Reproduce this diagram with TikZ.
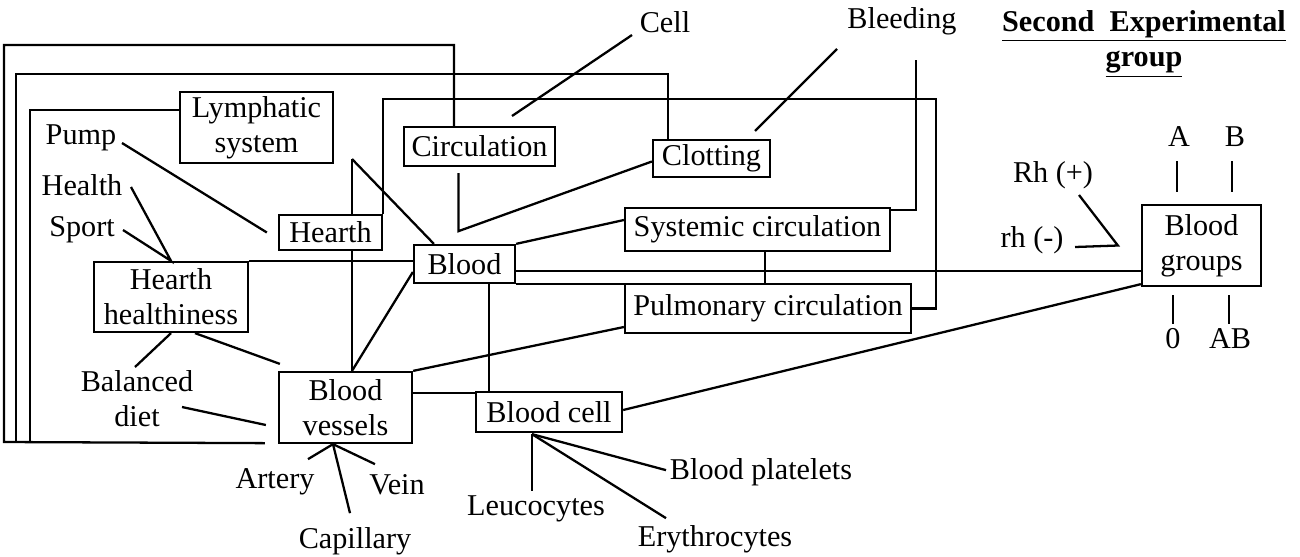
\documentclass[tikz,border=0pt]{standalone}
\usepackage{fontspec}
\setmainfont{Liberation Serif}
\usetikzlibrary{positioning, calc}

\begin{document}
\begin{tikzpicture}[
  x=0.02cm, y=-0.02cm, line width=1.3pt,
  box/.style={draw, line width=1.3pt, align=center, inner sep=0pt, font=\fontsize{17.2}{20}\selectfont},
  lbl/.style={align=center, inner sep=0pt, font=\fontsize{17.2}{20}\selectfont}
]
  \useasboundingbox (0,0) rectangle (1300,556);

  \node[box, minimum width=3.06cm, minimum height=1.42cm] (lymph) at (256.5,127.5) {Lymphatic\\system};
  \node[box, minimum width=3.02cm, minimum height=0.78cm] (circ) at (479.5,146.5) {Circulation};
  \node[box, minimum width=2.34cm, minimum height=0.74cm] (clot) at (711.5,158.5) {Clotting};
  \node[box, minimum width=2.06cm, minimum height=0.70cm] (hearth) at (330.5,232.5) {Hearth};
  \node[box, minimum width=3.08cm, minimum height=1.40cm] (healthy) at (171,297) {Hearth\\healthiness};
  \node[box, minimum width=2.02cm, minimum height=0.76cm] (blood) at (464.5,264) {Blood};
  \node[box, minimum width=5.30cm, minimum height=0.86cm] (sys) at (757.5,229.5) {Systemic circulation};
  \node[box, minimum width=5.72cm, minimum height=0.98cm] (pulm) at (768,308.5) {Pulmonary circulation};
  \node[box, minimum width=2.66cm, minimum height=1.42cm] (vessels) at (345.5,407.5) {Blood\\vessels};
  \node[box, minimum width=2.92cm, minimum height=0.80cm] (bcell) at (549,412) {Blood cell};
  \node[box, minimum width=2.38cm, minimum height=1.62cm] (groups) at (1201.5,245.5) {Blood\\groups};

  \node[lbl] (cell) at (665,22) {Cell};
  \node[lbl] (bleed) at (902,21) {Bleeding};
  \node[lbl] (pump) at (81,138) {Pump};
  \node[lbl] (health) at (82,185) {Health};
  \node[lbl] (sport) at (82,230) {Sport};
  \node[lbl] (diet) at (137,399) {Balanced\\diet};
  \node[lbl] (artery) at (275,482) {Artery};
  \node[lbl] (vein) at (397,485) {Vein};
  \node[lbl] (capil) at (355,541) {Capillary};
  \node[lbl] (leuco) at (536,509) {Leucocytes};
  \node[lbl] (eryth) at (715,539) {Erythrocytes};
  \node[lbl] (plate) at (761,472) {Blood platelets};
  \node[lbl] (rhp) at (1053,175) {Rh (+)};
  \node[lbl] (rhm) at (1032,240) {rh (-)};
  \node[lbl] (ga) at (1179,137) {A};
  \node[lbl] (gb) at (1235,137) {B};
  \node[lbl] (g0) at (1173,339) {0};
  \node[lbl] (gab) at (1230,339) {AB};
  \node[lbl, font=\bfseries\fontsize{17.2}{20}\selectfont] (title) at (1144,44)
    {\underline{Second\ \ Experimental}\\\underline{group}};

  \coordinate (cellA) at (632,35);
  \coordinate (cellB) at (512,116);
  \coordinate (bleedA) at (837,49);
  \coordinate (bleedB) at (755,131);
  \coordinate (bleedC) at (916,60);
  \coordinate (pumpA) at (122,143);
  \coordinate (healthA) at (131,187);
  \coordinate (sportA) at (123,230);
  \coordinate (dietA) at (135,367);
  \coordinate (dietB) at (182,407);
  \coordinate (hv) at (352,159);
  \coordinate (rhpA) at (1079,195);
  \coordinate (rhmA) at (1075,247);

  \draw ($(circ.north)+(-25.5,0)$) |- (4,45) -- (4,442) -- ($(vessels.south west)+(-13,-1)$);
  \draw ($(clot.north)+(-43.5,0)$) |- (16,74) -- (16,442);
  \draw ($(lymph.west)+(0,-17.5)$) -- (30,110) -- (30,442);
  \draw (hearth.north east) |- (936,99) |- (pulm.east);
  \draw (bleedC) |- ($(sys.east)+(0,-19.5)$);

  \draw (cellA) -- (cellB);
  \draw (bleedA) -- (bleedB);
  \draw ($(circ.south)+(-21,6)$) -- ++(0,58) -- ($(clot.west)+(0,3)$);
  \draw (pumpA) -- ($(hearth.west)+(-11,0)$);
  \draw (healthA) -- (healthy.north) -- (sportA);
  \draw (healthy.south) -- (dietA);
  \draw ($(healthy.south)+(24,0)$) -- ($(vessels.north west)+(2,-7)$);
  \draw (dietB) -- ($(vessels.west)+(-12,17.5)$);

  \draw (hv) -- (hv |- hearth.north);
  \draw (hv |- hearth.south) -- (hv |- vessels.north);
  \draw (hv) -- ($(blood.north west)+(21,0)$);
  \draw (healthy.north east) -- (healthy.north east -| blood.west);
  \draw ($(blood.west)+(0,8)$) -- (hv |- vessels.north);
  \draw (blood.north east) -- ($(sys.west)+(0,-9.5)$);
  \draw ($(blood.east)+(0,7)$) coordinate (bg) -- (bg -| groups.west);
  \draw (blood.south east) -- (blood.south east -| pulm.west);
  \draw ($(sys.south)+(7.5,0)$) coordinate (sp) -- (sp |- pulm.north);
  \draw ($(blood.south)+(24.5,0)$) coordinate (bb) -- (bb |- bcell.north);
  \draw ($(vessels.east)+(0,-14.5)$) coordinate (vb) -- (vb -| bcell.west);
  \draw (vessels.north east) -- ($(pulm.west)+(0,18.5)$);
  \draw ($(bcell.east)+(0,-2)$) -- ($(groups.south west)+(0,-3)$);

  \coordinate (bcf) at ($(bcell.south)+(-17,1)$);
  \draw (bcf) -- ++(0,57);
  \draw (bcf) -- ++(134,84);
  \draw (bcf) -- ++(134,36);
  \coordinate (vf) at ($(vessels.south)+(-12.5,0)$);
  \draw (vf) -- ++(-25,15);
  \draw (vf) -- ++(42,20);
  \draw (vf) -- ++(17,69);

  \draw ($(groups.north)+(-24.5,-12)$) -- ++(0,-31);
  \draw ($(groups.north)+(30.5,-12)$) -- ++(0,-31);
  \draw ($(groups.south)+(-28.5,8)$) -- ++(0,29);
  \draw ($(groups.south)+(27.5,8)$) -- ++(0,29);
  \draw (rhpA) -- ($(groups.west)+(-23,0)$) -- (rhmA);
\end{tikzpicture}
\end{document}
